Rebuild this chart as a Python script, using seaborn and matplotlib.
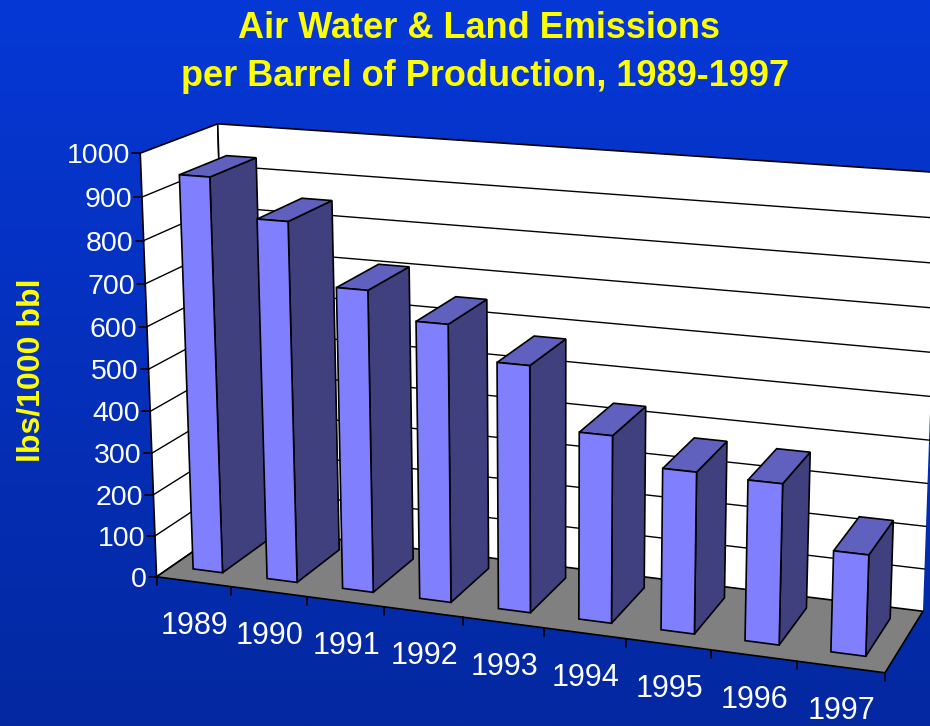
"""
Air, water and land emissions per barrel, drawn as a slide style 3D column chart
"""

import numpy as np
import pandas as pd
import matplotlib
matplotlib.use('Agg')
import matplotlib.pyplot as plt
from matplotlib.transforms import Transform
import seaborn as sns

# Data
years = ['1989', '1990', '1991', '1992', '1993', '1994', '1995', '1996', '1997']
emissions = [940, 852, 710, 649, 573, 433, 371, 366, 229]
value_ticks = [0, 100, 200, 300, 400, 500, 600, 700, 800, 900, 1000]

title_lines = ['Air Water & Land Emissions', 'per Barrel of Production, 1989-1997']
y_label = 'lbs/1000 bbl'

# Colours
front_color = '#8080FF'
side_color = '#40407F'
top_color = '#6060BF'
floor_color = '#808080'
text_yellow = '#FFFF00'

# Box corners: (category position, value, depth) -> picture pixel
box_x = [0, 9, 0, 0, 9, 0, 9, 1, 2, 8]
box_v = [0, 0, 1000, 0, 0, 1000, 1000, 0, 0, 0]
box_z = [0, 0, 0, 1, 1, 1, 1, 0, 0, 0]
pixel_x = [157, 885, 140, 230, 923, 218, 938.5, 231, 306, 797]
pixel_y = [577, 672, 153, 525, 612, 124, 172.5, 587, 597, 661]

bar_width = 0.4
bar_offset = 0.49
bar_z0 = 0.2
bar_z1 = 0.82


def fit_camera():
    """Least squares fit of the perspective matrix from the box corners"""
    rows, rhs = [], []
    for x, v, z, px, py in zip(box_x, box_v, box_z, pixel_x, pixel_y):
        rows.append([x, v, z, 1, 0, 0, 0, 0, -px * x, -px * v, -px * z])
        rows.append([0, 0, 0, 0, x, v, z, 1, -py * x, -py * v, -py * z])
        rhs += [px, py]
    sol = np.linalg.lstsq(np.array(rows, float), np.array(rhs, float), rcond=None)[0]
    return np.append(sol, 1).reshape(3, 4)


camera = fit_camera()


def proj(x, v, z):
    """Project chart coordinates to picture pixels"""
    p = camera @ np.array([x, v, z, 1.0])
    return p[0] / p[2], p[1] / p[2]


def quad(corners, **kwargs):
    pts = np.array([proj(*c) for c in corners])
    return ax.fill(pts[:, 0], pts[:, 1], **kwargs)


def seg(a, b, **kwargs):
    pts = np.array([proj(*a), proj(*b)])
    ax.plot(pts[:, 0], pts[:, 1], color='black', solid_capstyle='round', **kwargs)


class FrontPlane(Transform):
    """Sends seaborn's bar coordinates onto the front plane of the columns"""
    input_dims = 2
    output_dims = 2

    def transform_non_affine(self, values):
        values = np.asarray(values, float)
        return np.array([proj(x + bar_offset, v, bar_z0) for x, v in values])


sns.set_theme(style='white')
plt.rcParams['font.family'] = ['Liberation Sans', 'DejaVu Sans']

fig = plt.figure(figsize=(9.3, 7.26), dpi=100)
ax = fig.add_axes([0, 0, 1, 1])

# Background gradient
gradient = np.linspace(0, 1, 256)[:, None, None]
bg_top = np.array([6, 56, 214]) / 255
bg_bottom = np.array([3, 40, 160]) / 255
ax.imshow(bg_top + (bg_bottom - bg_top) * gradient, extent=[0, 930, 726, 0],
          aspect='auto', zorder=0)

# Walls and floor, the back wall has no line down its right side
edge = dict(edgecolor='black', linewidth=1.2, zorder=1)
quad([(0, 0, 0), (0, 1000, 0), (0, 1000, 1), (0, 0, 1)], facecolor='white', **edge)
quad([(0, 0, 1), (0, 1000, 1), (9, 1000, 1), (9, 0, 1)], facecolor='white',
     edgecolor='none', zorder=1)
seg((0, 1000, 1), (9, 1000, 1), linewidth=1.2, zorder=1)
seg((0, 0, 1), (0, 1000, 1), linewidth=1.2, zorder=1)
quad([(0, 0, 0), (9, 0, 0), (9, 0, 1), (0, 0, 1)], facecolor=floor_color, **edge)

# Gridlines and value axis
for tick in value_ticks:
    if 0 < tick < 1000:
        seg((0, tick, 0), (0, tick, 1), linewidth=1.0, zorder=2)
        seg((0, tick, 1), (9, tick, 1), linewidth=1.0, zorder=2)
    tx, ty = proj(0, tick, 0)
    ax.plot([tx - 8, tx], [ty, ty], color='black', linewidth=1.2, zorder=2)
    ax.text(tx - 10, ty + 3, str(tick), ha='right', va='center', color='white', fontsize=20.5)

# Category axis
for i in range(len(years) + 1):
    tx, ty = proj(i, 0, 0)
    ax.plot([tx, tx], [ty, ty + 8], color='black', linewidth=1.2, zorder=2)
for i, year in enumerate(years):
    tx, ty = proj(i + 0.5, 0, 0)
    ax.text(tx + 1, ty + 44.5, year, ha='center', va='center', color='white', fontsize=22)

# Front faces come from seaborn, the depth faces are built from them
df = pd.DataFrame({'year': years, 'emissions': emissions})
sns.barplot(data=df, x='year', y='emissions', ax=ax, width=bar_width, color=front_color,
            saturation=1, edgecolor='black', linewidth=1.2)
front = FrontPlane()
for i, bar in enumerate(ax.containers[-1]):
    x0 = bar.get_x() + bar_offset
    x1 = x0 + bar.get_width()
    h = bar.get_height()
    depth_edge = dict(edgecolor='black', linewidth=1.2, zorder=10 + i)
    quad([(x1, 0, bar_z0), (x1, h, bar_z0), (x1, h, bar_z1), (x1, 0, bar_z1)],
         facecolor=side_color, **depth_edge)
    quad([(x0, h, bar_z0), (x1, h, bar_z0), (x1, h, bar_z1), (x0, h, bar_z1)],
         facecolor=top_color, **depth_edge)
    bar.set_transform(front + ax.transData)
    bar.set_zorder(10.5 + i)

# Titles
ax.text(479, 38, title_lines[0], ha='center', va='baseline', color=text_yellow,
        fontsize=26, fontweight='bold')
ax.text(485, 86, title_lines[1], ha='center', va='baseline', color=text_yellow,
        fontsize=26, fontweight='bold')
ax.text(32, 370, y_label, ha='center', va='center', rotation=90, color=text_yellow,
        fontsize=23, fontweight='bold')

ax.set_xlim(0, 930)
ax.set_ylim(726, 0)
ax.set_axis_off()

plt.savefig('out.png', dpi=100)
plt.close()
